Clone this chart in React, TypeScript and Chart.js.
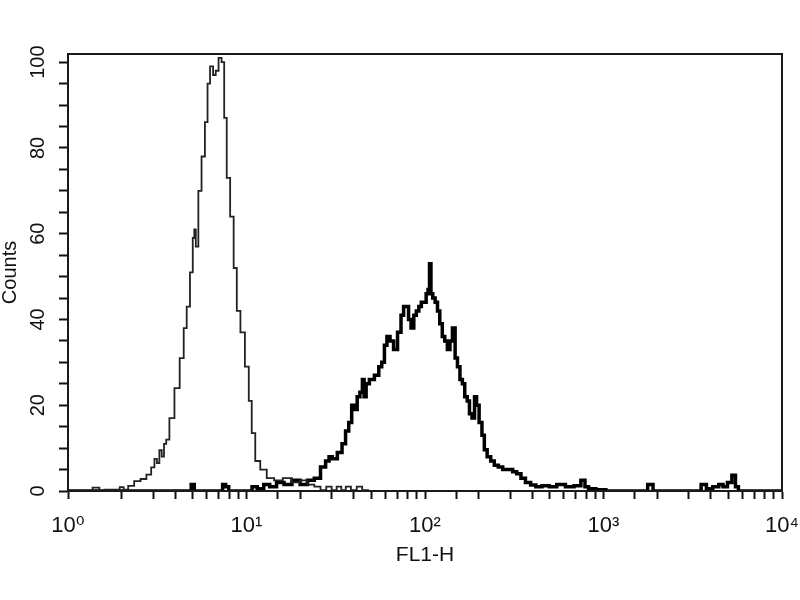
import React, { useEffect, useRef } from "react";
import { Chart, registerables } from "chart.js";

Chart.register(...registerables);

// Control (thin line) histogram: FL1-H value and counts
const controlX = [
  1, 1.3, 1.45, 1.55, 1.65, 1.9, 2.0, 2.1, 2.25, 2.45,
  2.65, 2.85, 3.0, 3.1, 3.2, 3.3, 3.4, 3.5, 3.6, 3.8,
  4.1, 4.35, 4.55, 4.7, 4.95, 5.05, 5.15, 5.25, 5.5, 5.7,
  6.0, 6.1, 6.4, 6.6, 6.85, 7.1, 7.4, 7.6, 7.9, 8.3,
  8.65, 9.0, 9.5, 10.1, 10.5, 10.9, 11.5, 12.4, 13.6, 15,
  17, 19, 21, 23, 25, 27, 29, 31, 33, 35,
  37, 40, 43, 46, 50, 100, 1000, 10000,
];
const controlY = [
  0, 0, 0.8, 0, 0.3, 0.3, 0.9, 0.3, 1.2, 2.3,
  2.8, 3.8, 5.5, 7.5, 6.5, 9.5, 8, 11, 12, 17,
  24, 31, 38, 43, 51, 59, 61, 57, 70, 78,
  86, 95, 99, 97, 98, 101, 100, 87, 73, 64,
  52, 42, 37, 29, 21, 13.5, 7, 5, 3, 2.5,
  3, 2, 2.5, 1.5, 1, 0.2, 1, 0.2, 1, 0.2,
  1, 0.2, 1, 0.2, 0, 0, 0, 0,
];

// Stained (thick line) histogram
const stainedX = [
  1, 4.8, 5.0, 5.2, 7.2, 7.5, 7.8, 8.1, 10.5, 11,
  12, 13, 14, 15.5, 17, 19, 21, 23, 25, 27,
  28.5, 29.5, 31, 33.6, 35, 36.8, 38, 39.7, 41, 42.4,
  44, 45.2, 46, 47.6, 50, 54.2, 56, 58.5, 60, 62.4,
  65, 68.4, 72, 74.8, 77, 79.8, 82, 85.1, 88, 90.8,
  94, 96.8, 100, 103, 105, 107, 109, 112, 116, 119,
  123, 127, 131, 136, 140, 145, 150, 154, 160, 164,
  170, 175, 180, 187, 192, 197, 205, 212, 218, 228,
  239, 250, 265, 280, 302, 318, 335, 355, 376, 406,
  430, 475, 520, 576, 650, 720, 775, 800, 850, 966,
  1100, 1700, 1840, 1950, 3400, 3650, 3900, 4300, 4550, 4800,
  5100, 5380, 5600, 5800, 10000,
];
const stainedY = [
  0, 0, 1.5, 0, 0, 1.5, 1, 0, 0, 1,
  0.5, 1.5, 1, 2, 1.5, 2.5, 1.5, 2.5, 3, 5.6,
  7, 8, 7.5, 9, 11, 14, 16, 20, 19, 22,
  23, 26, 22, 25, 26, 27, 29, 30, 34, 36,
  35, 33, 37, 41, 43, 43, 40, 38, 41, 42,
  43, 44, 44, 46, 47, 53, 46, 45, 44, 42,
  39, 36, 35, 33, 35, 38, 31, 29, 26, 25,
  22, 21, 18, 17, 22, 20, 16, 13, 9.6, 8,
  7, 6, 5.6, 5, 5, 4.5, 4, 3, 2, 1.4,
  1, 1.2, 1, 1.5, 1, 1.2, 2.5, 1, 0.5, 0.3,
  0, 0, 1.5, 0, 0, 1.5, 0.5, 1, 1.5, 1,
  2, 3.7, 1, 0, 0,
];

const xDecadeLabels = ["10\u2070", "10\u00B9", "10\u00B2", "10\u00B3", "10\u2074"];
const yMajorStep = 20;

const FONT = "'Liberation Sans', Arial, 'DejaVu Sans', sans-serif";

export default function App() {
  const canvasRef = useRef<HTMLCanvasElement>(null);

  useEffect(() => {
    const canvas = canvasRef.current;
    if (!canvas) return;

    const framePlugin = {
      id: "frame",
      afterDraw(chart: any) {
        const { ctx, chartArea: a } = chart;
        ctx.save();
        ctx.strokeStyle = "#1a1a1a";
        ctx.lineWidth = 2;
        ctx.strokeRect(a.left, a.top, a.right - a.left, a.bottom - a.top);
        ctx.restore();
      },
    };

    const chart = new Chart(canvas, {
      type: "line",
      data: {
        datasets: [
          {
            label: "Control",
            data: controlX.map((x, i) => ({ x, y: controlY[i] })),
            borderColor: "#222222",
            borderWidth: 1.8,
            pointRadius: 0,
            stepped: "middle",
            fill: false,
          },
          {
            label: "Stained",
            data: stainedX.map((x, i) => ({ x, y: stainedY[i] })),
            borderColor: "#000000",
            borderWidth: 3.5,
            pointRadius: 0,
            stepped: "middle",
            fill: false,
          },
        ],
      },
      options: {
        responsive: false,
        animation: false,
        layout: { padding: { top: 54, right: 18, left: 0, bottom: 0 } },
        plugins: {
          legend: { display: false },
          tooltip: { enabled: false },
        },
        scales: {
          x: {
            type: "logarithmic",
            min: 1,
            max: 10000,
            afterFit(scale: any) {
              scale.height = 109;
              scale.paddingLeft = 0;
              scale.paddingRight = 0;
            },
            border: { display: true, color: "#111", width: 2 },
            grid: {
              drawOnChartArea: false,
              drawTicks: true,
              tickLength: 8,
              tickColor: "#111",
              tickWidth: 2,
            },
            ticks: {
              autoSkip: false,
              maxRotation: 0,
              minRotation: 0,
              padding: 14,
              color: "#111",
              font: { family: FONT, size: 22 },
              callback(value: any) {
                const v = Number(value);
                const e = Math.log10(v);
                if (Math.abs(e - Math.round(e)) < 1e-9) {
                  return xDecadeLabels[Math.round(e)] ?? "";
                }
                return "";
              },
            },
            title: {
              display: true,
              text: "FL1-H",
              color: "#111",
              font: { family: FONT, size: 21, lineHeight: 1 },
              padding: { top: 0, bottom: 34 },
            },
          },
          y: {
            type: "linear",
            min: 0,
            max: 101.9,
            afterFit(scale: any) {
              scale.width = 68;
              scale.paddingTop = 0;
              scale.paddingBottom = 0;
            },
            border: { display: true, color: "#111", width: 2 },
            grid: {
              drawOnChartArea: false,
              drawTicks: true,
              tickLength: 9,
              tickColor: "#111",
              tickWidth: 2,
            },
            ticks: {
              stepSize: 5,
              includeBounds: false,
              autoSkip: false,
              minRotation: 90,
              maxRotation: 90,
              crossAlign: "center",
              padding: 4,
              color: "#111",
              font: { family: FONT, size: 20 },
              callback(value: any) {
                const v = Number(value);
                return v % yMajorStep === 0 ? String(v) : "";
              },
            },
            title: {
              display: true,
              text: "Counts",
              color: "#111",
              font: { family: FONT, size: 20, lineHeight: 1 },
              padding: { top: 0, bottom: 0 },
            },
          },
        },
      },
      plugins: [framePlugin],
    } as any);

    return () => chart.destroy();
  }, []);

  return (
    <div
      style={{
        position: "absolute",
        left: 0,
        top: 0,
        width: 800,
        height: 600,
        background: "#ffffff",
      }}
    >
      <canvas
        ref={canvasRef}
        width={800}
        height={600}
        style={{ width: 800, height: 600, display: "block" }}
      />
    </div>
  );
}
